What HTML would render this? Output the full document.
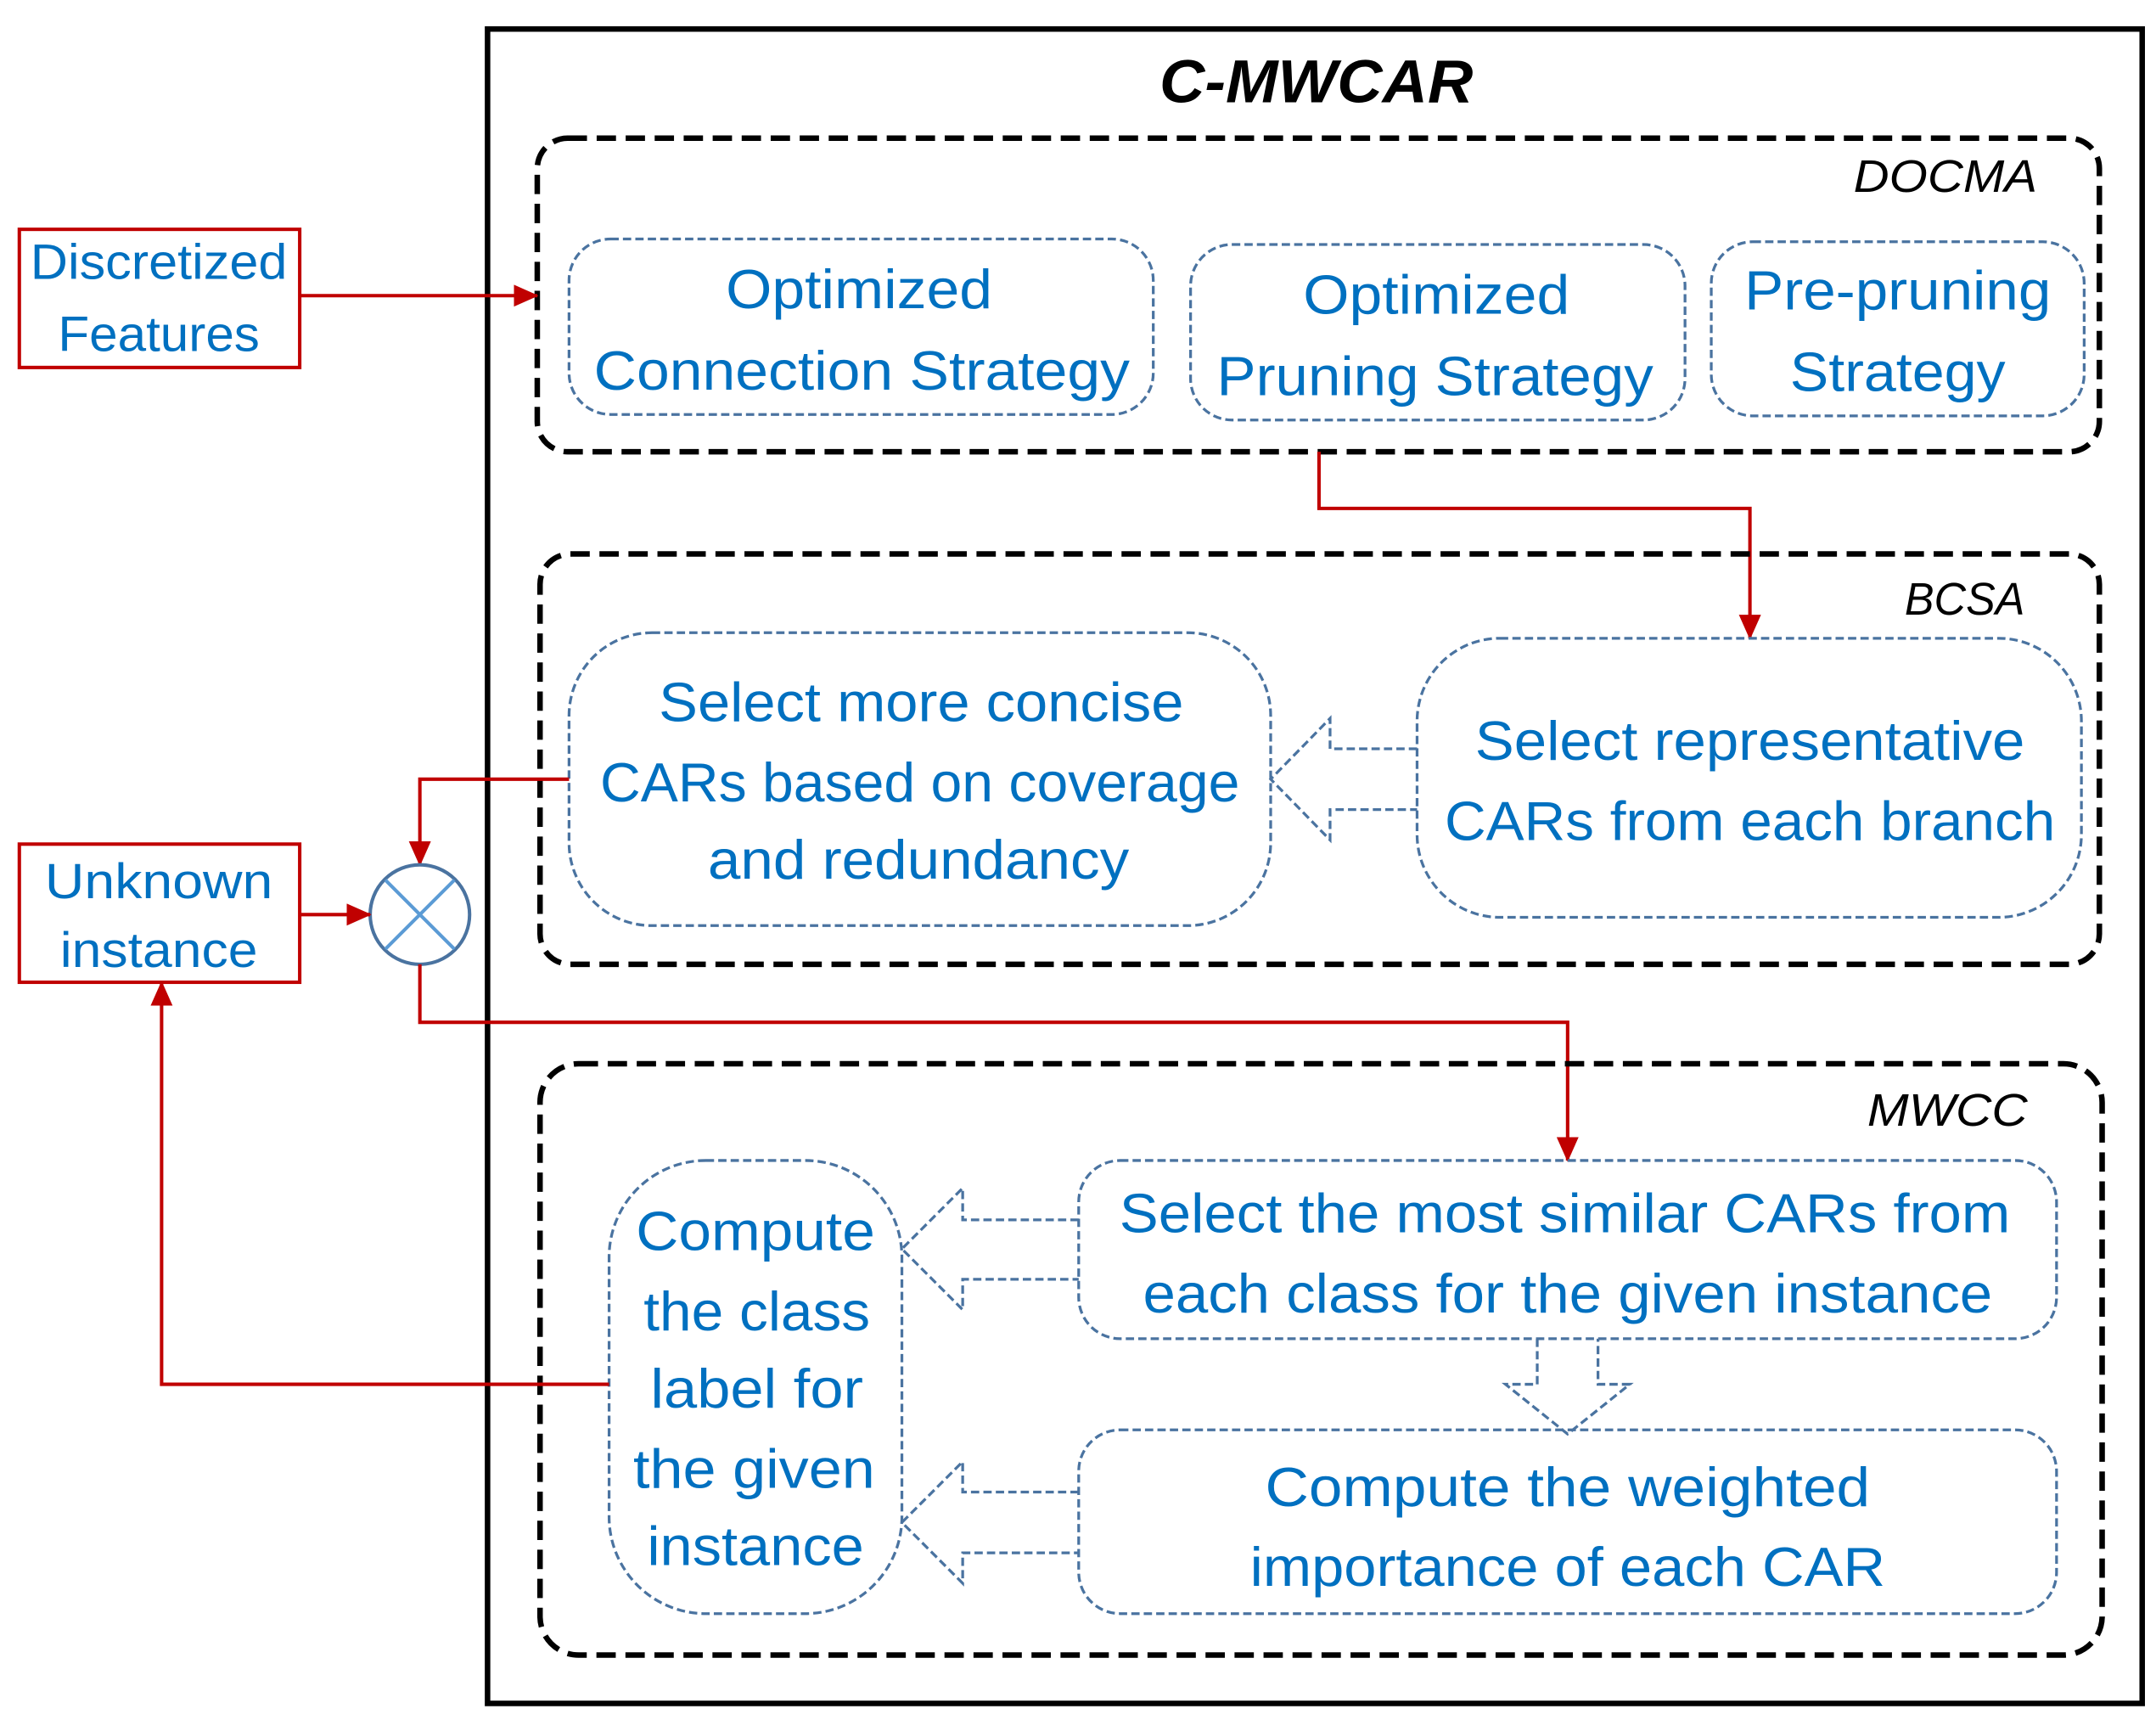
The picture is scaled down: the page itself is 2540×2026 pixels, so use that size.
<!DOCTYPE html>
<html><head><meta charset="utf-8"><style>
html,body{margin:0;padding:0;background:#fff;}
svg{display:block;}
.b{fill:#0070C0;font-family:"Liberation Sans",sans-serif;font-size:40px;}
.k{fill:#000;font-family:"Liberation Sans",sans-serif;font-style:italic;font-size:33px;}
.r{fill:#0070C0;font-family:"Liberation Sans",sans-serif;font-size:36px;}
.bx{fill:none;stroke:#000;stroke-width:4;stroke-dasharray:14,7;}
.ib{fill:none;stroke:#4A73A0;stroke-width:2;stroke-dasharray:6,3;}
.red{fill:none;stroke:#C00000;stroke-width:2.5;}
</style></head><body>
<svg width="2540" height="2026" viewBox="0 0 1561 1245" preserveAspectRatio="none" xmlns="http://www.w3.org/2000/svg">
<defs>
<marker id="a2" markerWidth="18" markerHeight="16" refX="17" refY="8" orient="auto" markerUnits="userSpaceOnUse" viewBox="0 0 18 16"><path d="M0,0 L18,8 L0,16z" fill="#C00000"/></marker></defs>
<rect x="353" y="21" width="1198" height="1212" fill="none" stroke="#000" stroke-width="4"/>
<text x="953" y="74" text-anchor="middle" font-family="Liberation Sans,sans-serif" font-weight="bold" font-style="italic" font-size="44" textLength="227" lengthAdjust="spacingAndGlyphs">C-MWCAR</text>

<rect class="bx" x="389" y="100" width="1131" height="227" rx="22"/>
<text class="k" x="1475" y="139" text-anchor="end" textLength="133" lengthAdjust="spacingAndGlyphs">DOCMA</text>
<rect class="ib" x="412" y="173" width="423" height="127" rx="30"/>
<text class="b" x="622" y="223" text-anchor="middle" textLength="193" lengthAdjust="spacingAndGlyphs">Optimized</text>
<text class="b" x="624" y="282" text-anchor="middle" textLength="388" lengthAdjust="spacingAndGlyphs">Connection Strategy</text>
<rect class="ib" x="862" y="177" width="358" height="127" rx="30"/>
<text class="b" x="1040" y="227" text-anchor="middle" textLength="193" lengthAdjust="spacingAndGlyphs">Optimized</text>
<text class="b" x="1039" y="286" text-anchor="middle" textLength="316" lengthAdjust="spacingAndGlyphs">Pruning Strategy</text>
<rect class="ib" x="1239" y="175" width="270" height="126" rx="30"/>
<text class="b" x="1374" y="224" text-anchor="middle" textLength="222" lengthAdjust="spacingAndGlyphs">Pre-pruning</text>
<text class="b" x="1374" y="283" text-anchor="middle" textLength="156" lengthAdjust="spacingAndGlyphs">Strategy</text>

<rect x="14" y="166" width="203" height="100" fill="none" stroke="#C00000" stroke-width="2.5"/>
<text class="r" x="115" y="202" text-anchor="middle" textLength="186" lengthAdjust="spacingAndGlyphs">Discretized</text>
<text class="r" x="115" y="254" text-anchor="middle" textLength="146" lengthAdjust="spacingAndGlyphs">Features</text>
<path class="red" d="M217,214 H389" marker-end="url(#a2)"/>
<path class="red" d="M955,327 V368 H1267 V462" marker-end="url(#a2)"/>

<rect class="bx" x="391" y="401" width="1129" height="297" rx="22"/>
<text class="k" x="1466" y="445" text-anchor="end" textLength="87" lengthAdjust="spacingAndGlyphs">BCSA</text>
<rect class="ib" x="412" y="458" width="508" height="212" rx="60"/>
<text class="b" x="667" y="522" text-anchor="middle" textLength="380" lengthAdjust="spacingAndGlyphs">Select more concise</text>
<text class="b" x="666" y="580" text-anchor="middle" textLength="463" lengthAdjust="spacingAndGlyphs">CARs based on coverage</text>
<text class="b" x="665" y="636" text-anchor="middle" textLength="305" lengthAdjust="spacingAndGlyphs">and redundancy</text>
<rect class="ib" x="1026" y="462" width="481" height="202" rx="60"/>
<text class="b" x="1267" y="550" text-anchor="middle" textLength="398" lengthAdjust="spacingAndGlyphs">Select representative</text>
<text class="b" x="1267" y="608" text-anchor="middle" textLength="442" lengthAdjust="spacingAndGlyphs">CARs from each branch</text>
<path class="ib" d="M1026,542 H963 V520 L920,564 L963,608 V586 H1026"/>

<path class="red" d="M412,564 H304 V626" marker-end="url(#a2)"/>
<circle cx="304" cy="662" r="36" fill="#fff" stroke="#4A73A0" stroke-width="2.5"/>
<path d="M279,637 L329,687 M329,637 L279,687" stroke="#5B9BD5" stroke-width="2.5"/>
<rect x="14" y="611" width="203" height="100" fill="none" stroke="#C00000" stroke-width="2.5"/>
<text class="r" x="115" y="650" text-anchor="middle" textLength="165" lengthAdjust="spacingAndGlyphs">Unknown</text>
<text class="r" x="115" y="700" text-anchor="middle" textLength="143" lengthAdjust="spacingAndGlyphs">instance</text>
<path class="red" d="M217,662 H268" marker-end="url(#a2)"/>
<path class="red" d="M304,698 V740 H1135 V840" marker-end="url(#a2)"/>

<rect class="bx" x="391" y="770" width="1131" height="428" rx="28"/>
<text class="k" x="1468" y="815" text-anchor="end" textLength="116" lengthAdjust="spacingAndGlyphs">MWCC</text>
<rect class="ib" x="441" y="840" width="212" height="328" rx="70"/>
<text class="b" x="547" y="905" text-anchor="middle" textLength="173" lengthAdjust="spacingAndGlyphs">Compute</text>
<text class="b" x="548" y="963" text-anchor="middle" textLength="164" lengthAdjust="spacingAndGlyphs">the class</text>
<text class="b" x="548" y="1019" text-anchor="middle" textLength="154" lengthAdjust="spacingAndGlyphs">label for</text>
<text class="b" x="546" y="1077" text-anchor="middle" textLength="175" lengthAdjust="spacingAndGlyphs">the given</text>
<text class="b" x="547" y="1133" text-anchor="middle" textLength="157" lengthAdjust="spacingAndGlyphs">instance</text>
<rect class="ib" x="781" y="840" width="708" height="129" rx="30"/>
<text class="b" x="1133" y="892" text-anchor="middle" textLength="645" lengthAdjust="spacingAndGlyphs">Select the most similar CARs from</text>
<text class="b" x="1135" y="950" text-anchor="middle" textLength="615" lengthAdjust="spacingAndGlyphs">each class for the given instance</text>
<rect class="ib" x="781" y="1035" width="708" height="133" rx="30"/>
<text class="b" x="1135" y="1090" text-anchor="middle" textLength="438" lengthAdjust="spacingAndGlyphs">Compute the weighted</text>
<text class="b" x="1135" y="1148" text-anchor="middle" textLength="460" lengthAdjust="spacingAndGlyphs">importance of each CAR</text>
<path class="ib" d="M781,883 H697 V860 L653,904 L697,948 V926 H781"/>
<path class="ib" d="M781,1080 H697 V1058 L653,1102 L697,1146 V1124 H781"/>
<path class="ib" d="M1113,969 V1002 H1090 L1135,1038 L1180,1002 H1157 V969"/>
<path class="red" d="M441,1002 H117 V711" marker-end="url(#a2)"/>
</svg>
</body></html>
